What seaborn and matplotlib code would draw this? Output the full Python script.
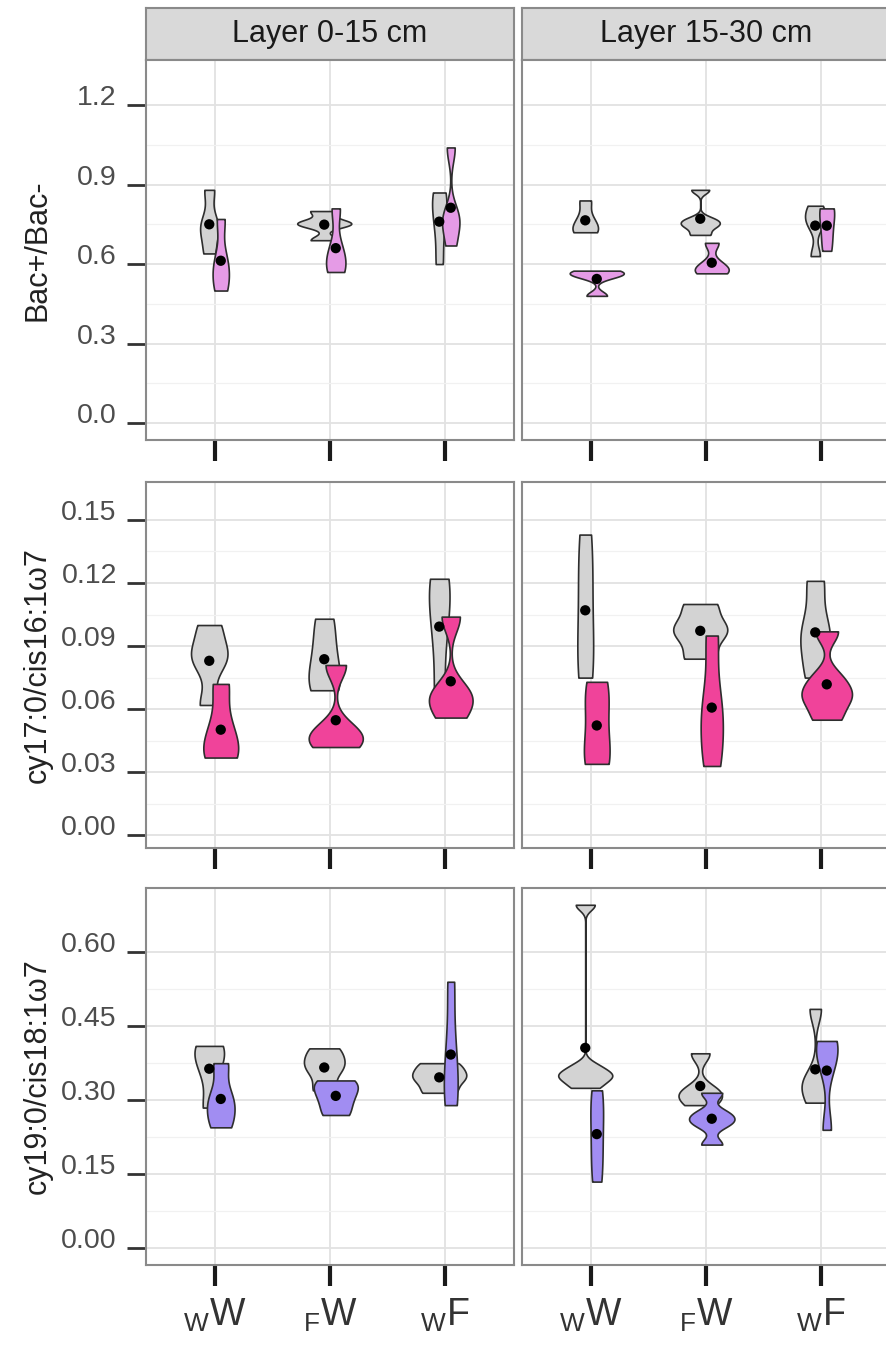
import numpy as np
import pandas as pd
import matplotlib
matplotlib.use("Agg")
import matplotlib.pyplot as plt
import seaborn as sns

# ---------------- data ----------------
TREATMENTS = ["wW", "FW", "wF"]
TICK_LABELS = [r"$_{W}$W", r"$_{F}$W", r"$_{W}$F"]
LAYERS = ["Layer 0-15 cm", "Layer 15-30 cm"]
METRICS = ["Bac+/Bac-", "cy17:0/cis16:1\u03c97", "cy19:0/cis18:1\u03c97"]

# Bac+/Bac-  (grey group / coloured group), per treatment wW, FW, wF
bac_grey_l1 = [[0.64, 0.72, 0.76, 0.88], [0.69, 0.75, 0.755, 0.80], [0.60, 0.74, 0.83, 0.87]]
bac_col_l1 = [[0.50, 0.56, 0.62, 0.77], [0.57, 0.60, 0.66, 0.81], [0.67, 0.76, 0.78, 1.04]]
bac_grey_l2 = [[0.72, 0.73, 0.77, 0.84], [0.71, 0.74, 0.755, 0.77, 0.88], [0.63, 0.75, 0.78, 0.82]]
bac_col_l2 = [[0.48, 0.555, 0.565, 0.575], [0.565, 0.575, 0.60, 0.68], [0.65, 0.72, 0.80, 0.81]]

# cy17:0/cis16:1w7
cy17_grey_l1 = [[0.062, 0.082, 0.088, 0.100], [0.069, 0.075, 0.088, 0.103], [0.065, 0.095, 0.115, 0.122]]
cy17_col_l1 = [[0.037, 0.040, 0.052, 0.072], [0.042, 0.046, 0.050, 0.081], [0.056, 0.065, 0.068, 0.104]]
cy17_grey_l2 = [[0.075, 0.090, 0.120, 0.143], [0.084, 0.095, 0.100, 0.110], [0.075, 0.090, 0.100, 0.121]]
cy17_col_l2 = [[0.034, 0.040, 0.062, 0.073], [0.033, 0.050, 0.065, 0.095], [0.055, 0.064, 0.068, 0.075, 0.097]]

# cy19:0/cis18:1w7
cy19_grey_l1 = [[0.285, 0.36, 0.40, 0.41], [0.32, 0.36, 0.38, 0.405], [0.315, 0.34, 0.355, 0.375]]
cy19_col_l1 = [[0.245, 0.28, 0.31, 0.375], [0.27, 0.30, 0.325, 0.34], [0.29, 0.33, 0.41, 0.54]]
cy19_grey_l2 = [[0.325, 0.34, 0.35, 0.355, 0.37, 0.696], [0.29, 0.31, 0.32, 0.395], [0.295, 0.33, 0.34, 0.485]]
cy19_col_l2 = [[0.135, 0.20, 0.27, 0.32], [0.21, 0.25, 0.262, 0.275, 0.315], [0.24, 0.37, 0.41, 0.42]]

Y_TICKS = [[0.0, 0.3, 0.6, 0.9, 1.2],
           [0.00, 0.03, 0.06, 0.09, 0.12, 0.15],
           [0.00, 0.15, 0.30, 0.45, 0.60]]
Y_TICK_LABELS = [["0.0", "0.3", "0.6", "0.9", "1.2"],
                 ["0.00", "0.03", "0.06", "0.09", "0.12", "0.15"],
                 ["0.00", "0.15", "0.30", "0.45", "0.60"]]

PANELS = [
    [(bac_grey_l1, bac_col_l1), (bac_grey_l2, bac_col_l2)],
    [(cy17_grey_l1, cy17_col_l1), (cy17_grey_l2, cy17_col_l2)],
    [(cy19_grey_l1, cy19_col_l1), (cy19_grey_l2, cy19_col_l2)],
]

# ---------------- style ----------------
GREY = "#D3D3D3"
ROW_COLORS = ["#E59BE6", "#F0439A", "#A18DF2"]
EDGE = "#2e2e2e"
YLIMS = [(-0.064, 1.37), (-0.006, 0.168), (-0.034, 0.73)]
OFFSET = 0.05
MAXW = 0.47

plt.rcParams["font.family"] = ["Liberation Sans", "DejaVu Sans"]
plt.rcParams["mathtext.default"] = "regular"


def nrd0(kde):
    """R's bw.nrd0 bandwidth, expressed as a gaussian_kde factor."""
    x = np.asarray(kde.dataset).ravel()
    sd = np.std(x, ddof=1)
    q75, q25 = np.percentile(x, [75, 25])
    lo = min(sd, (q75 - q25) / 1.34)
    if lo <= 0:
        lo = sd if sd > 0 else (abs(x[0]) if x[0] != 0 else 1.0)
    bw = 0.9 * lo * len(x) ** -0.2
    return bw / sd if sd > 0 else 1.0


def panel_frame(grey, col):
    recs = []
    for i, t in enumerate(TREATMENTS):
        for v in grey[i]:
            recs.append((t, "Control", v))
        for v in col[i]:
            recs.append((t, "Treated", v))
    df = pd.DataFrame(recs, columns=["treatment", "group", "value"])
    idx = df["treatment"].map({t: i for i, t in enumerate(TREATMENTS)})
    df["pos"] = idx + df["group"].map({"Control": -OFFSET, "Treated": OFFSET})
    return df


W, H = 886, 1346
def rect(x0, x1, y0, y1):
    return [x0 / W, 1 - y1 / H, (x1 - x0) / W, (y1 - y0) / H]

ROWS_Y = [(60, 440), (482, 848), (888, 1265)]
COLS_X = [(146, 514), (522, 890)]

fig = plt.figure(figsize=(W / 100, H / 100), dpi=100)

# strips
for c, lay in enumerate(LAYERS):
    sax = fig.add_axes(rect(COLS_X[c][0], COLS_X[c][1], 8, 60))
    sax.set_facecolor("#D9D9D9")
    sax.set_xticks([]); sax.set_yticks([])
    for sp in sax.spines.values():
        sp.set_color("#8a8a8a"); sp.set_linewidth(1.5)
    sax.text(0.5, 0.5, lay, ha="center", va="center", fontsize=22, color="#1a1a1a",
             transform=sax.transAxes)

for r in range(3):
    for c in range(2):
        grey, col = PANELS[r][c]
        df = panel_frame(grey, col)
        ax = fig.add_axes(rect(COLS_X[c][0], COLS_X[c][1], ROWS_Y[r][0], ROWS_Y[r][1]))
        sns.violinplot(data=df, x="pos", y="value", hue="group",
                       hue_order=["Control", "Treated"],
                       palette={"Control": GREY, "Treated": ROW_COLORS[r]},
                       native_scale=True, dodge=False, orient="x",
                       density_norm="area", common_norm=True, cut=0,
                       bw_method=nrd0, gridsize=200, inner=None,
                       width=MAXW / (2 * OFFSET), linecolor=EDGE, linewidth=1.2,
                       saturation=1, legend=False, ax=ax)
        means = df.groupby(["pos"], as_index=False)["value"].mean()
        sns.scatterplot(data=means, x="pos", y="value", color="black", s=55,
                        edgecolor="none", zorder=6, legend=False, ax=ax)

        ax.set_xlim(-0.6, 2.6)
        ax.set_ylim(*YLIMS[r])
        ax.set_xticks(range(len(TREATMENTS)))
        ax.set_yticks(Y_TICKS[r])
        yt = Y_TICKS[r]
        ax.set_yticks([(a + b) / 2 for a, b in zip(yt[:-1], yt[1:])], minor=True)
        ax.set_xlabel(""); ax.set_ylabel("")
        ax.set_axisbelow(True)
        ax.grid(which="major", color="#E2E2E2", linewidth=1.3)
        ax.grid(which="minor", axis="y", color="#F1F1F1", linewidth=0.9)
        ax.tick_params(which="minor", length=0)
        for sp in ax.spines.values():
            sp.set_color("#8a8a8a"); sp.set_linewidth(1.5)

        ax.tick_params(axis="x", length=15, width=3, color="#1a1a1a", pad=8,
                       labelsize=27, labelcolor="#333333")
        if r == 2:
            ax.set_xticklabels(TICK_LABELS)
        else:
            ax.tick_params(axis="x", labelbottom=False)

        if c == 0:
            ax.set_yticklabels(Y_TICK_LABELS[r])
            ax.tick_params(axis="y", length=14, width=2, color="#333333", pad=7,
                           labelsize=20.5, labelcolor="#4d4d4d")
            for lab in ax.get_yticklabels():
                lab.set_va("baseline")
            y0, y1 = ROWS_Y[r]
            fig.text(38 / W, 1 - (y0 + y1) / 2 / H, METRICS[r], rotation=90,
                     ha="center", va="center", fontsize=22, color="#222222")
        else:
            ax.tick_params(axis="y", left=False, labelleft=False)

fig.savefig("out.png", dpi=100)
